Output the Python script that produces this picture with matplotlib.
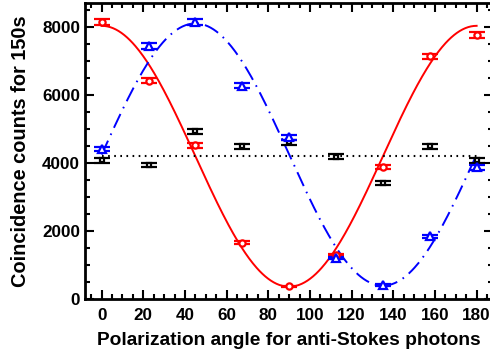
import numpy as np
import matplotlib
matplotlib.use("Agg")
import matplotlib.pyplot as plt

# ---------------- Data ----------------
angles = [0, 22.5, 45, 67.5, 90, 112.5, 135, 157.5, 180]

red_counts = [8130, 6420, 4520, 1660, 380, 1300, 3880, 7130, 7750]
red_err = [90, 80, 67, 41, 25, 36, 62, 84, 88]

blue_counts = [4420, 7450, 8130, 6270, 4760, 1220, 430, 1850, 3870]
blue_err = [66, 86, 90, 79, 69, 35, 25, 43, 62]

black_counts = [4080, 3950, 4930, 4490, 4610, 4190, 3410, 4490, 4080]
black_err = [64, 63, 70, 67, 68, 65, 58, 67, 64]

mean_level = 4210

# fit curves: offset + amplitude * cos^2(theta - phase)
red_fit = (370, 7660, 0)
blue_fit = (400, 7700, 45)

plt.rcParams["font.family"] = ["Liberation Sans", "DejaVu Sans"]
plt.rcParams["font.weight"] = "bold"
plt.rcParams["axes.labelweight"] = "bold"
plt.rcParams["lines.scale_dashes"] = False

fig = plt.figure(figsize=(4.9, 3.62), dpi=100)
ax = fig.add_axes([85 / 490, 62.7 / 362, 408.3 / 490, 296.3 / 362])

theta = np.linspace(0, 180, 400)
for (off, amp, ph), color, style in [
    (red_fit, "#ff0000", dict(ls="-")),
    (blue_fit, "#0000ff", dict(dashes=(11, 4.5, 1.2, 4.5))),
]:
    ax.plot(theta, off + amp * np.cos(np.radians(theta - ph)) ** 2,
            color=color, lw=1.4, zorder=2, **style)

ax.plot([0, 180], [mean_level, mean_level], color="black", lw=1.5,
        dashes=(1.2, 3.2), zorder=2)

eb = dict(ls="none", capsize=5.5, elinewidth=1.5, capthick=1.5,
          mfc="white", mew=1.6, zorder=3)
ax.errorbar(angles, black_counts, yerr=black_err, fmt="s", ms=3.4,
            color="black", **eb)
ax.errorbar(angles, red_counts, yerr=red_err, fmt="o", ms=4.5,
            color="#ff0000", **eb)
ax.errorbar(angles, blue_counts, yerr=blue_err, fmt="^", ms=5.5,
            color="#0000ff", **eb)

ax.set_xlim(-8, 188)
ax.set_ylim(0, 8700)
ax.set_xticks(range(0, 181, 20))
ax.set_xticks(range(-5, 188, 5), minor=True)
ax.set_yticks(range(0, 8001, 2000))
ax.set_yticks(range(0, 8700, 500), minor=True)

ax.tick_params(which="both", direction="in", top=True, right=True,
               width=1.5, labelsize=12.3)
ax.tick_params(which="major", length=6.5)
ax.tick_params(which="minor", length=3.5)
ax.tick_params(axis="x", pad=6)
ax.tick_params(axis="y", pad=3.5)
for s in ax.spines.values():
    s.set_linewidth(2)

ax.set_xlabel("Polarization angle for anti-Stokes photons", fontsize=13.8,
              labelpad=7)
ax.set_ylabel("Coincidence counts for 150s", fontsize=14.4, labelpad=9)

fig.savefig("out.png", dpi=100)
